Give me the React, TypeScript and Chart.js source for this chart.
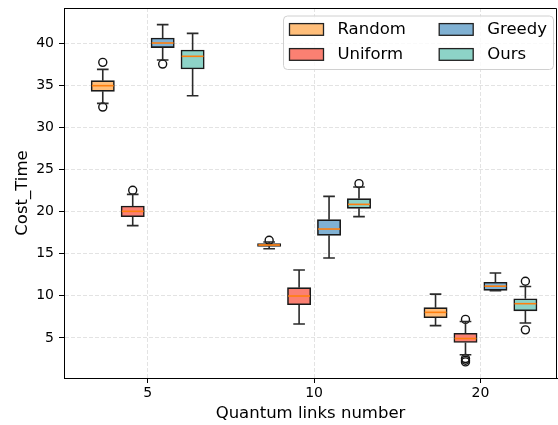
import React, { useEffect, useRef } from 'react';
import { Chart, registerables } from 'chart.js';

Chart.register(...registerables);

// ---------- data ----------
const categories = ['5', '10', '20'];
const seriesNames = ['Random', 'Uniform', 'Greedy', 'Ours'];
const yTickValues = [5, 10, 15, 20, 25, 30, 35, 40];

const randomLow = [32.87, 15.6, 6.46];
const randomQ1 = [34.3, 15.88, 7.41];
const randomMedian = [34.97, 16.04, 8.04];
const randomQ3 = [35.57, 16.2, 8.6];
const randomHigh = [36.91, 16.4, 10.21];
const randomOutliers = [[37.74, 32.43], [16.6], []];

const uniformLow = [18.34, 6.65, 3.0];
const uniformQ1 = [19.41, 8.95, 4.46];
const uniformMedian = [20.04, 9.98, 4.93];
const uniformQ3 = [20.67, 10.97, 5.56];
const uniformHigh = [22.06, 13.07, 6.95];
const uniformOutliers = [[22.54], [], [7.2, 2.55, 2.35, 2.15]];

const greedyLow = [38.02, 14.49, 10.62];
const greedyQ1 = [39.49, 17.19, 10.65];
const greedyMedian = [40.04, 17.94, 11.15];
const greedyQ3 = [40.63, 19.05, 11.62];
const greedyHigh = [42.22, 21.82, 12.71];
const greedyOutliers = [[37.54], [], []];

const oursLow = [33.78, 19.41, 6.77];
const oursQ1 = [36.95, 20.4, 8.22];
const oursMedian = [38.46, 20.87, 9.07];
const oursQ3 = [39.21, 21.55, 9.65];
const oursHigh = [41.19, 22.93, 11.11];
const oursOutliers = [[], [23.33], [11.74, 5.96]];

// ---------- style ----------
const seriesColors = ['#ffbe7a', '#fb8072', '#80b1d3', '#8dd3c7'];
const groupOffsets = [-0.27, -0.09, 0.09, 0.27];
const FONT = "'DejaVu Sans', 'Liberation Sans', sans-serif";

const series = [
  { low: randomLow, q1: randomQ1, median: randomMedian, q3: randomQ3, high: randomHigh, outliers: randomOutliers },
  { low: uniformLow, q1: uniformQ1, median: uniformMedian, q3: uniformQ3, high: uniformHigh, outliers: uniformOutliers },
  { low: greedyLow, q1: greedyQ1, median: greedyMedian, q3: greedyQ3, high: greedyHigh, outliers: greedyOutliers },
  { low: oursLow, q1: oursQ1, median: oursMedian, q3: oursQ3, high: oursHigh, outliers: oursOutliers },
];

const boxPlugin = {
  id: 'boxWhiskers',
  afterDatasetsDraw(chart: any) {
    const ctx = chart.ctx;
    const y = chart.scales.y;
    ctx.save();
    series.forEach((s, si) => {
      const meta = chart.getDatasetMeta(si);
      meta.data.forEach((el: any, gi: number) => {
        const x = el.x;
        const w = el.width;
        const yLow = y.getPixelForValue(s.low[gi]);
        const yQ1 = y.getPixelForValue(s.q1[gi]);
        const yQ3 = y.getPixelForValue(s.q3[gi]);
        const yHigh = y.getPixelForValue(s.high[gi]);
        const yMed = y.getPixelForValue(s.median[gi]);
        ctx.strokeStyle = '#2a2a2a';
        ctx.lineWidth = 1.6;
        ctx.beginPath();
        ctx.moveTo(x, yQ1);
        ctx.lineTo(x, yLow);
        ctx.moveTo(x, yQ3);
        ctx.lineTo(x, yHigh);
        ctx.moveTo(x - w / 4, yLow);
        ctx.lineTo(x + w / 4, yLow);
        ctx.moveTo(x - w / 4, yHigh);
        ctx.lineTo(x + w / 4, yHigh);
        ctx.stroke();
        ctx.strokeStyle = '#ff7f0e';
        ctx.lineWidth = 1.6;
        ctx.beginPath();
        ctx.moveTo(x - w / 2 + 0.75, yMed);
        ctx.lineTo(x + w / 2 - 0.75, yMed);
        ctx.stroke();
      });
    });
    ctx.restore();
  },
};

const framePlugin = {
  id: 'frameLegend',
  afterDraw(chart: any) {
    const ctx = chart.ctx;
    const a = chart.chartArea;
    ctx.save();
    ctx.strokeStyle = '#000';
    ctx.lineWidth = 1;
    ctx.beginPath();
    ctx.moveTo(Math.round(a.left) + 0.5, Math.round(a.top) + 0.5);
    ctx.lineTo(Math.round(a.right) - 0.5, Math.round(a.top) + 0.5);
    ctx.lineTo(Math.round(a.right) - 0.5, Math.round(a.bottom) + 0.5);
    ctx.stroke();

    // legend (2 columns, column-major like matplotlib)
    const bx = a.right - 273.5;
    const by = a.top + 8;
    const bw = 270;
    const bh = 53.5;
    const r = 4;
    ctx.beginPath();
    ctx.moveTo(bx + r, by);
    ctx.arcTo(bx + bw, by, bx + bw, by + bh, r);
    ctx.arcTo(bx + bw, by + bh, bx, by + bh, r);
    ctx.arcTo(bx, by + bh, bx, by, r);
    ctx.arcTo(bx, by, bx + bw, by, r);
    ctx.closePath();
    ctx.fillStyle = 'rgba(255,255,255,0.8)';
    ctx.fill();
    ctx.strokeStyle = '#d0d0d0';
    ctx.lineWidth = 1;
    ctx.stroke();

    ctx.font = `16.5px ${FONT}`;
    ctx.textBaseline = 'middle';
    ctx.textAlign = 'left';
    seriesNames.forEach((name, i) => {
      const col = Math.floor(i / 2);
      const row = i % 2;
      const px = bx + 6 + col * 149.7;
      const py = by + 7.6 + row * 25;
      ctx.fillStyle = seriesColors[i];
      ctx.fillRect(px, py, 34, 11.7);
      ctx.strokeStyle = '#222';
      ctx.lineWidth = 1.3;
      ctx.strokeRect(px, py, 34, 11.7);
      ctx.fillStyle = '#000';
      ctx.fillText(name, px + 48, py + 6.3);
    });
    ctx.restore();
  },
};

export default function App() {
  const canvasRef = useRef<HTMLCanvasElement | null>(null);

  useEffect(() => {
    document.body.style.margin = '0';
    const canvas = canvasRef.current;
    if (!canvas) return;

    const barSets = series.map((s, si) => ({
      type: 'bar' as const,
      label: seriesNames[si],
      data: categories.map((_, gi) => ({ x: gi + groupOffsets[si], y: [s.q1[gi], s.q3[gi]] })),
      backgroundColor: seriesColors[si],
      hoverBackgroundColor: seriesColors[si],
      borderColor: '#1a1a1a',
      borderWidth: 1.6,
      borderSkipped: false,
      grouped: false,
      barPercentage: 1,
      categoryPercentage: 1,
      maxBarThickness: 23.3,
      order: 2,
    }));

    const outlierSets = series.map((s, si) => ({
      type: 'scatter' as const,
      label: seriesNames[si] + ' outliers',
      data: s.outliers.flatMap((vals, gi) => vals.map((v) => ({ x: gi + groupOffsets[si], y: v }))),
      pointStyle: 'circle',
      pointRadius: 4,
      pointHoverRadius: 4,
      backgroundColor: 'rgba(0,0,0,0)',
      borderColor: '#111',
      borderWidth: 1.4,
      order: 1,
    }));

    const chart = new Chart(canvas, {
      type: 'bar',
      data: { datasets: [...barSets, ...outlierSets] as any },
      plugins: [boxPlugin, framePlugin],
      options: {
        animation: false,
        events: [],
        responsive: true,
        maintainAspectRatio: false,
        layout: { autoPadding: false, padding: { top: 8, right: 1, left: 0, bottom: 0 } },
        plugins: { legend: { display: false }, tooltip: { enabled: false } },
        scales: {
          x: {
            type: 'linear',
            offset: false,
            min: -0.503,
            max: 2.46,
            afterBuildTicks: (scale: any) => {
              scale.ticks = categories.map((_, i) => ({ value: i }));
            },
            afterFit: (scale: any) => {
              scale.height = 47;
              scale.paddingLeft = 0;
              scale.paddingRight = 0;
            },
            ticks: {
              callback: (_v: any, i: number) => categories[i],
              font: { family: FONT, size: 14 },
              color: '#000',
              padding: 2,
              maxRotation: 0,
            },
            grid: {
              offset: false,
              color: '#e3e3e3',
              lineWidth: 1,
              tickColor: '#000',
              tickLength: 5,
              tickWidth: 1,
            },
            border: { display: true, color: '#000', width: 1, dash: [4, 2] },
            title: {
              display: true,
              text: 'Quantum links number',
              font: { family: FONT, size: 16.5 },
              color: '#000',
              padding: { top: 0, bottom: 1 },
            },
          },
          y: {
            type: 'linear',
            min: 0.24,
            max: 44.2,
            afterBuildTicks: (scale: any) => {
              scale.ticks = yTickValues.map((v) => ({ value: v }));
            },
            afterFit: (scale: any) => {
              scale.width = 64;
              scale.paddingTop = 0;
              scale.paddingBottom = 0;
            },
            ticks: {
              callback: (v: any) => String(v),
              font: { family: FONT, size: 14 },
              color: '#000',
              padding: 5,
            },
            grid: {
              color: '#e3e3e3',
              lineWidth: 1,
              tickColor: '#000',
              tickLength: 5,
              tickWidth: 1,
            },
            border: { display: true, color: '#000', width: 1, dash: [4, 2] },
            title: {
              display: true,
              text: 'Cost_Time',
              font: { family: FONT, size: 16.5 },
              color: '#000',
              padding: { top: 12.8, bottom: 0 },
            },
          },
        },
      } as any,
    });

    return () => chart.destroy();
  }, []);

  return (
    <div style={{ position: 'absolute', left: 0, top: 0, width: 558, height: 425 }}>
      <canvas ref={canvasRef} />
    </div>
  );
}
